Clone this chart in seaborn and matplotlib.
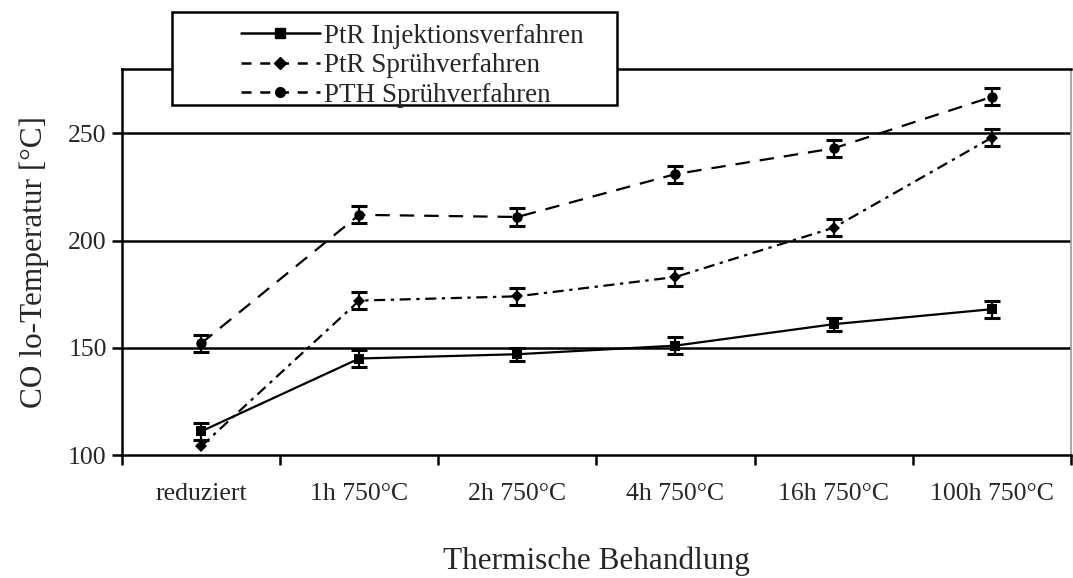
import matplotlib
matplotlib.use("Agg")
import matplotlib.pyplot as plt
from matplotlib.lines import Line2D
from matplotlib.patches import Rectangle
import numpy as np
import pandas as pd
import seaborn as sns

# Treatment steps and measured CO light-off temperatures (°C)
categories = ["reduziert", "1h 750°C", "2h 750°C", "4h 750°C", "16h 750°C", "100h 750°C"]
series_names = ["PtR Injektionsverfahren", "PtR Sprühverfahren", "PTH Sprühverfahren"]
ptr_injektion = [111, 145, 147, 151, 161, 168]
ptr_spruehen = [104, 172, 174, 183, 206, 248]
pth_spruehen = [152, 212, 211, 231, 243, 267]
err_injektion = [4, 4, 3, 4, 3, 4]
err_ptr_spruehen = [0, 4, 4, 4, 4, 4]
err_pth_spruehen = [4, 4, 4, 4, 4, 4]
y_ticks = [100, 150, 200, 250]

values = [ptr_injektion, ptr_spruehen, pth_spruehen]
errors = [err_injektion, err_ptr_spruehen, err_pth_spruehen]

df = pd.DataFrame({
    "pos": np.tile(np.arange(len(categories)), len(series_names)),
    "value": np.concatenate(values),
    "err": np.concatenate(errors),
    "series": np.repeat(series_names, len(categories)),
})

sns.set_theme(style="white")
plt.rcParams["font.family"] = ["Liberation Serif", "DejaVu Serif"]

fig = plt.figure(figsize=(10.73, 5.78), dpi=100)
ax = fig.add_axes([0.1137, 0.2128, 0.8843, 0.6678])

markers = {series_names[0]: "s", series_names[1]: "D", series_names[2]: "o"}
msizes = {series_names[0]: 7, series_names[1]: 6, series_names[2]: 7.5}
dashes = {series_names[0]: "", series_names[1]: (5, 2.5, 1.5, 2.5), series_names[2]: (6.5, 4.5)}
palette = {s: "black" for s in series_names}

sns.lineplot(data=df, x="pos", y="value", hue="series", style="series",
             markers=markers, dashes=dashes, palette=palette, linewidth=1.6,
             markersize=7, markeredgewidth=0, legend=False, ax=ax, zorder=3)

# per-series marker sizes
for line, name in zip(ax.get_lines(), series_names):
    line.set_markersize(msizes[name])

# error bars
err_styles = {series_names[0]: "-", series_names[1]: "-", series_names[2]: (0, (3, 2))}
for name in series_names:
    sub = df[df["series"] == name]
    sub = sub[sub["err"] > 0]
    eb = ax.errorbar(sub["pos"], sub["value"], yerr=sub["err"], fmt="none",
                     ecolor="black", elinewidth=1.6, capsize=5.5, capthick=2.2, zorder=2)
    for lc in eb[2]:
        lc.set_linestyle(err_styles[name])

ax.set_xlim(-0.5, len(categories) - 0.5)
ax.set_ylim(100, 280)
ax.set_yticks(y_ticks)
ax.set_yticklabels([str(v) for v in y_ticks], fontsize=18.5)
for v in y_ticks[1:]:
    ax.axhline(v, color="black", lw=1.8, zorder=1)

# boundary ticks between treatments; labels centred on each treatment
ax.set_xticks(np.arange(len(categories) + 1) - 0.5)
ax.set_xticklabels([])
ax.set_xticks(np.arange(len(categories)), minor=True)
ax.set_xticklabels(categories, minor=True, fontsize=18.5)
ax.tick_params(axis="x", which="major", direction="out", length=7, width=1.8,
               color="black", bottom=True)
ax.tick_params(axis="x", which="minor", length=0, pad=20)
ax.tick_params(axis="y", direction="out", length=7, width=1.8, color="black",
               left=True, pad=4)

for side, sp in ax.spines.items():
    sp.set_color("black")
    sp.set_linewidth(1.8)
ax.spines["right"].set_color("#999999")
ax.spines["right"].set_linewidth(1.2)

ax.set_xlabel("Thermische Behandlung", fontsize=22.5, labelpad=30)
ax.set_ylabel("CO lo-Temperatur [°C]", fontsize=22.5, labelpad=14)

# legend box overlapping the top of the plot frame
W, H = 1073, 578
fig.patches.append(Rectangle((172 / W, 1 - 105 / H), (617 - 172) / W, (105 - 12) / H,
                             transform=fig.transFigure, facecolor="white",
                             edgecolor="black", linewidth=1.8, zorder=4))
handles = [
    Line2D([], [], color="black", lw=1.8, marker="s", markersize=7),
    Line2D([], [], color="black", lw=1.8, marker="D", markersize=6, dashes=(4, 3.5)),
    Line2D([], [], color="black", lw=1.8, marker="o", markersize=7, dashes=(4, 3.5)),
]
leg = fig.legend(handles, series_names, loc="upper left",
                 bbox_to_anchor=(222 / W, 1 - 5 / H), frameon=False,
                 fontsize=19.5, handlelength=2.9, handletextpad=0.15,
                 labelspacing=0.16, borderpad=0.2)
leg.set_zorder(5)

fig.savefig("out.png", dpi=100)
